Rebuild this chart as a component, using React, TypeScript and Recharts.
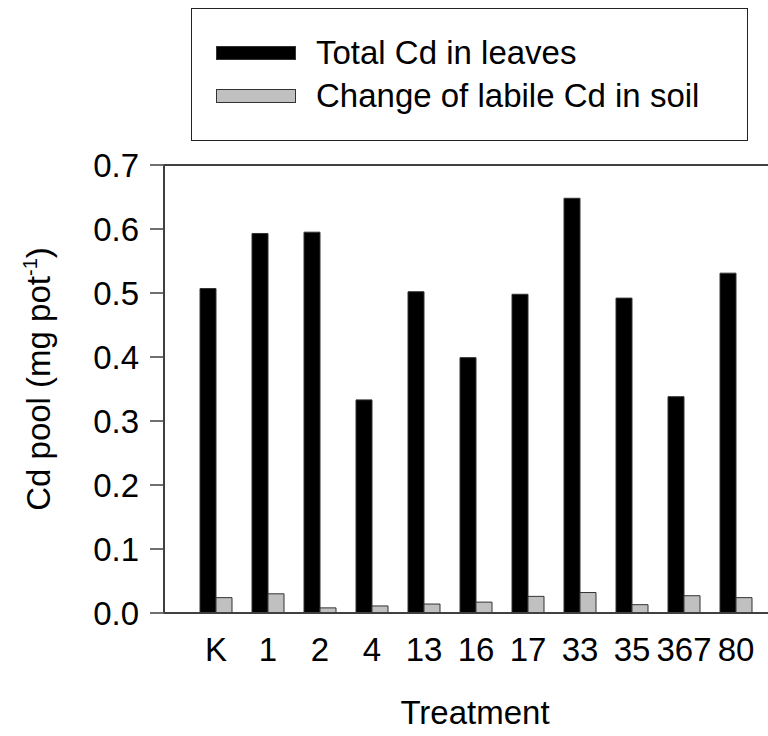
import { Bar, BarChart, Legend, ReferenceLine, XAxis, YAxis } from 'recharts';

const treatments = ['K', '1', '2', '4', '13', '16', '17', '33', '35', '367', '80'];
const totalCdLeaves = [0.507, 0.593, 0.595, 0.333, 0.502, 0.399, 0.498, 0.648, 0.492, 0.338, 0.531];
const labileCdChange = [0.024, 0.03, 0.008, 0.011, 0.014, 0.017, 0.026, 0.032, 0.013, 0.027, 0.024];
const yTicks = [0, 0.1, 0.2, 0.3, 0.4, 0.5, 0.6, 0.7];

const data = treatments.map((t, i) => ({
  treatment: t,
  leaves: totalCdLeaves[i],
  soil: labileCdChange[i],
}));

const FONT = '"Liberation Sans", Arial, sans-serif';
const AXIS = '#404040';
const LEGEND_H = 133;
const XAXIS_H = 30;

function LegendBox({ payload }: any) {
  return (
    <div
      style={{
        width: 557,
        height: LEGEND_H,
        boxSizing: 'border-box',
        border: '1.5px solid #222',
        background: '#fff',
        paddingTop: 22,
        fontFamily: FONT,
      }}
    >
      {(payload || []).map((p: any) => (
        <div key={p.value} style={{ display: 'flex', alignItems: 'center', height: 43 }}>
          <span
            style={{
              display: 'inline-block',
              marginLeft: 24,
              width: 80,
              height: 14,
              boxSizing: 'border-box',
              background: p.color,
              border: '1px solid #333',
            }}
          />
          <span style={{ marginLeft: 20, fontSize: 33, color: '#000', lineHeight: '43px' }}>{p.value}</span>
        </div>
      ))}
    </div>
  );
}

// rotated y-axis title with a superscript exponent
function YTitle() {
  return (
    <text transform="translate(50, 379) rotate(-90)" textAnchor="middle" fontSize={33} fontFamily={FONT} fill="#000">
      Cd pool (mg pot
      <tspan fontSize={20} dy={-13}>-1</tspan>
      <tspan dy={13}>)</tspan>
    </text>
  );
}

export default function App() {
  return (
    <div style={{ position: 'absolute', left: 0, top: 0, width: 768, height: 736, background: '#fff' }}>
      <BarChart
        width={768}
        height={736}
        data={data}
        // legend height and x-axis height are added to these margins
        margin={{ top: 165 - LEGEND_H, right: 0, bottom: 123 - XAXIS_H, left: 0 }}
        barSize={16}
        barGap={0}
      >
        <XAxis
          dataKey="treatment"
          height={XAXIS_H}
          padding={{ left: 26, right: 6 }}
          interval={0}
          tickLine={false}
          tickSize={0}
          tickMargin={25}
          axisLine={{ stroke: AXIS, strokeWidth: 2 }}
          tick={{ fontSize: 33, fill: '#000', fontFamily: FONT }}
          label={{ value: 'Treatment', position: 'insideBottom', offset: -81, fontSize: 33, fill: '#000', fontFamily: FONT, dx: 9 }}
        />
        <YAxis
          width={164}
          domain={[0, 0.7]}
          ticks={yTicks}
          interval={0}
          tickFormatter={(v: number) => v.toFixed(1)}
          tickSize={14}
          tickMargin={11}
          tickLine={{ stroke: AXIS, strokeWidth: 1.5 }}
          axisLine={{ stroke: AXIS, strokeWidth: 2 }}
          tick={{ fontSize: 33, fill: '#000', fontFamily: FONT }}
          label={{ content: YTitle }}
        />
        <ReferenceLine y={0.7} stroke={AXIS} strokeWidth={2} ifOverflow="extendDomain" />
        <Legend
          verticalAlign="top"
          itemSorter="dataKey"
          content={LegendBox}
          wrapperStyle={{ position: 'absolute', left: 191, top: 8, width: 557, height: LEGEND_H }}
        />
        <Bar dataKey="leaves" name="Total Cd in leaves" fill="#000" stroke="#333" strokeWidth={1} isAnimationActive={false} />
        <Bar dataKey="soil" name="Change of labile Cd in soil" fill="#c0c0c0" stroke="#333" strokeWidth={1} isAnimationActive={false} />
      </BarChart>
    </div>
  );
}
